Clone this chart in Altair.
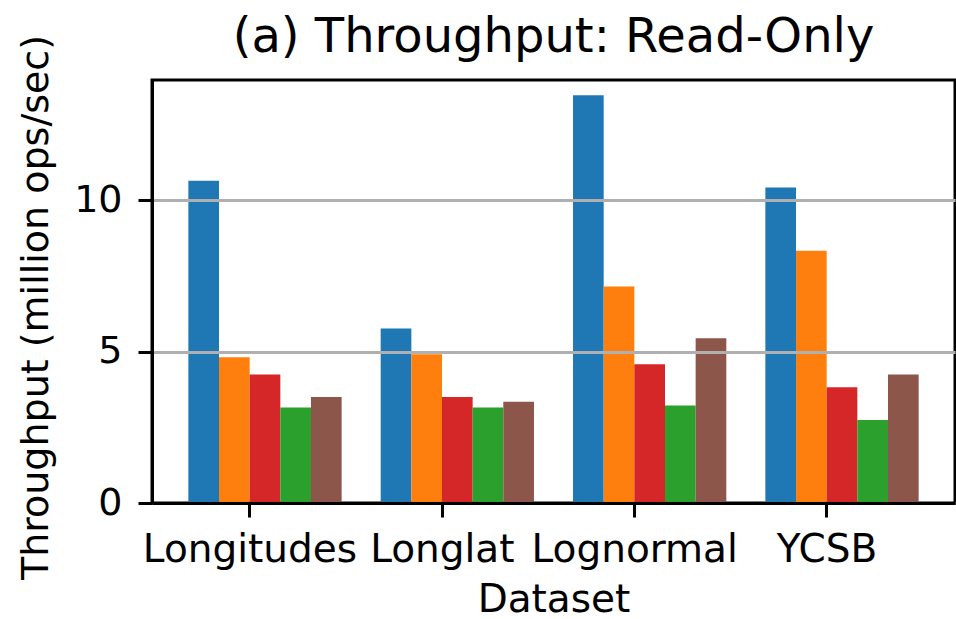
import altair as alt
import pandas as pd

datasets = ["Longitudes", "Longlat", "Lognormal", "YCSB"]
series = ["S1", "S2", "S3", "S4", "S5"]
colors = ["#1f77b4", "#ff7f0e", "#d62728", "#2ca02c", "#8c564b"]
s1 = [10.64, 5.76, 13.47, 10.42]
s2 = [4.81, 4.91, 7.15, 8.33]
s3 = [4.24, 3.50, 4.58, 3.82]
s4 = [3.15, 3.15, 3.22, 2.74]
s5 = [3.50, 3.34, 5.44, 4.24]
y_ticks = [0, 5, 10]

rows = []
for name, vals in zip(series, [s1, s2, s3, s4, s5]):
    for d, v in zip(datasets, vals):
        rows.append({"Dataset": d, "Series": name, "Value": v})
df = pd.DataFrame(rows)

FONT = "DejaVu Sans"

chart = alt.Chart(df).mark_bar(stroke=None).encode(
    x=alt.X("Dataset:N", sort=datasets,
            scale=alt.Scale(paddingInner=0.203, paddingOuter=0.189),
            axis=alt.Axis(title="Dataset", labelAngle=0, bandPosition=0.4, labelLimit=0,
                          labelOffset=-15,
                          labelFontSize=39, titleFontSize=39, labelFont=FONT, titleFont=FONT,
                          labelColor="black", titleColor="black", titleFontWeight="normal",
                          tickSize=14, tickWidth=3, tickColor="black",
                          domain=True, domainColor="black", domainWidth=3,
                          labelPadding=13, titleBaseline="alphabetic", titleY=108,
                          grid=False, zindex=1)),
    xOffset=alt.XOffset("Series:N", sort=series, scale=alt.Scale(paddingInner=0, paddingOuter=0)),
    y=alt.Y("Value:Q", scale=alt.Scale(domain=[0, 13.97], nice=False, zero=True),
            axis=alt.Axis(title="Throughput (million ops/sec)", values=y_ticks, format="d",
                          labelFontSize=38, titleFontSize=38, labelFont=FONT, titleFont=FONT,
                          labelColor="black", titleColor="black", titleFontWeight="normal",
                          tickSize=14, tickWidth=3, tickColor="black",
                          domain=True, domainColor="black", domainWidth=3,
                          labelPadding=16, grid=True, gridColor="#b0b0b0", gridWidth=3,
                          titleAngle=270, titleAlign="center", titleBaseline="alphabetic",
                          titleX=-105, titleY=227, titleLimit=0, zindex=1)),
    color=alt.Color("Series:N", sort=series, scale=alt.Scale(domain=series, range=colors), legend=None),
).properties(
    width=803,
    height=423,
    title=alt.TitleParams("(a) Throughput: Read-Only", fontSize=48, font=FONT, fontWeight="normal",
                          color="black", anchor="middle", baseline="alphabetic", offset=-20, dy=46),
    padding={"left": 152, "top": 80, "right": 1, "bottom": 116},
    autosize=alt.AutoSizeParams(type="none"),
    background="white",
).configure_view(stroke="black", strokeWidth=3)

chart.save("out.html", embed_options={"renderer": "svg", "actions": False})
